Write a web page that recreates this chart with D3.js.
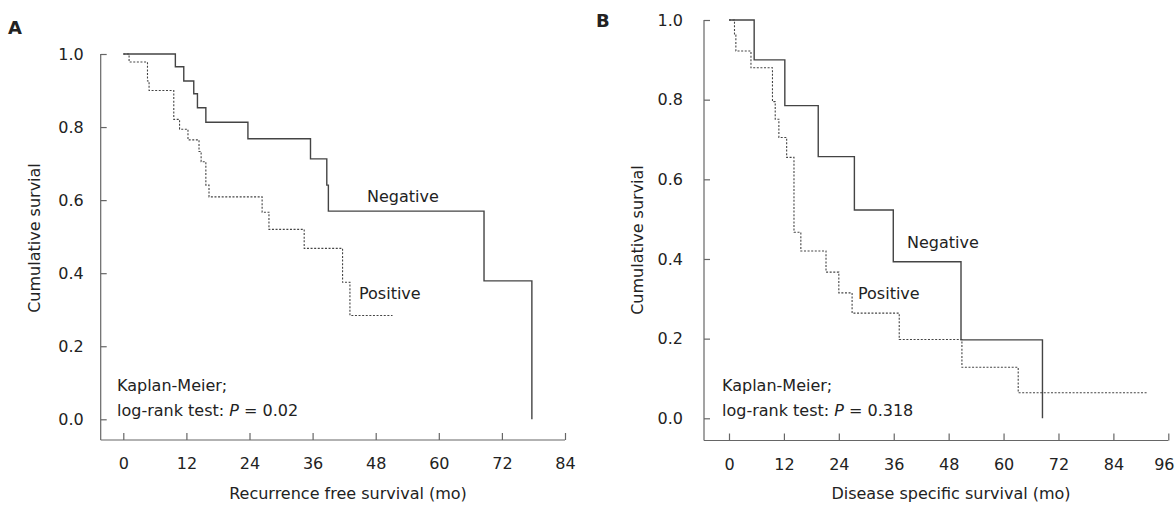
<!DOCTYPE html>
<html>
<head>
<meta charset="utf-8">
<script src="https://cdn.jsdelivr.net/npm/d3@7"></script>
<style>
  body { margin: 0; background: #fff; }
  svg text { font-family: "DejaVu Sans", Verdana, sans-serif; fill: #222; }
</style>
</head>
<body>
<svg id="chart" width="1175" height="505"></svg>
<script>
// Panel A - recurrence free survival (times in months, survival after each drop)
var negA_t = [0, 9.9, 11.5, 13.4, 14.1, 15.7, 23.7, 35.6, 38.7, 39.0, 68.6, 77.7];
var negA_s = [1.0, 0.965, 0.926, 0.891, 0.853, 0.813, 0.768, 0.713, 0.641, 0.570, 0.379, 0.0];
var posA_t = [0, 1.1, 4.6, 4.9, 9.6, 10.7, 12.3, 14.4, 14.8, 15.7, 16.3, 26.4, 27.7, 34.4, 41.7, 43.1, 51.2];
var posA_s = [1.0, 0.978, 0.926, 0.900, 0.821, 0.794, 0.765, 0.733, 0.705, 0.641, 0.609, 0.567, 0.520, 0.468, 0.375, 0.284, 0.284];

// Panel B - disease specific survival
var negB_t = [0, 5.5, 12.2, 19.5, 27.4, 35.9, 50.7, 68.5];
var negB_s = [1.0, 0.900, 0.785, 0.657, 0.523, 0.393, 0.197, 0.0];
var posB_t = [0, 1.2, 1.5, 4.8, 9.5, 10.1, 10.9, 12.6, 14.2, 15.7, 21.2, 24.0, 26.9, 37.2, 50.9, 63.2, 91.3];
var posB_s = [1.0, 0.962, 0.922, 0.880, 0.795, 0.751, 0.705, 0.655, 0.467, 0.420, 0.367, 0.315, 0.264, 0.198, 0.128, 0.064, 0.064];

var yTicks = [0, 0.2, 0.4, 0.6, 0.8, 1.0];
var xTicksA = [0, 12, 24, 36, 48, 60, 72, 84];
var xTicksB = [0, 12, 24, 36, 48, 60, 72, 84, 96];

var svg = d3.select("#chart");
var axisColor = "#666";
var lineColor = "#444";

function pts(t, s){
    return t.map(function(d, i){ return [d, s[i]]; });
}

function drawPanel(cfg){
    var x = d3.scaleLinear().domain([0, cfg.xmax]).range(cfg.xr);
    var y = d3.scaleLinear().domain([0, 1]).range(cfg.yr);
    var g = svg.append("g");

    // axis lines (drawn by hand so they meet in the corner)
    g.append("line").attr("x1", cfg.axX).attr("x2", cfg.axX)
        .attr("y1", y(1)).attr("y2", cfg.axY)
        .attr("stroke", axisColor).attr("stroke-width", 1.2);
    g.append("line").attr("x1", cfg.axX).attr("x2", x(cfg.xmax))
        .attr("y1", cfg.axY).attr("y2", cfg.axY)
        .attr("stroke", axisColor).attr("stroke-width", 1.2);

    var ya = g.append("g").attr("transform", "translate(" + cfg.axX + ",0)")
        .call(d3.axisLeft(y).tickValues(yTicks).tickFormat(d3.format(".1f"))
            .tickSizeInner(-6).tickSizeOuter(0).tickPadding(cfg.ypad));
    var xa = g.append("g").attr("transform", "translate(0," + cfg.axY + ")")
        .call(d3.axisBottom(x).tickValues(cfg.xticks)
            .tickSizeInner(-7).tickSizeOuter(0).tickPadding(18));
    [ya, xa].forEach(function(a){
        a.select(".domain").remove();
        a.selectAll("line").attr("stroke", axisColor).attr("stroke-width", 1.2);
        a.selectAll("text").style("font-size", "16px").attr("fill", "#222")
            .style("font-family", "DejaVu Sans, Verdana, sans-serif");
    });
    // keep the last tick label inside the page
    xa.selectAll(".tick text").filter(function(d){ return x(d) > 1160; })
        .attr("text-anchor", "end").attr("x", 1175 - x(cfg.xmax) - 1);

    var line = d3.line().x(function(d){ return x(d[0]); }).y(function(d){ return y(d[1]); })
        .curve(d3.curveStepAfter);

    g.append("path").attr("d", line(pts(cfg.posT, cfg.posS)))
        .attr("fill", "none").attr("stroke", lineColor).attr("stroke-width", 1.1)
        .attr("stroke-dasharray", "2,1.6");
    g.append("path").attr("d", line(pts(cfg.negT, cfg.negS)))
        .attr("fill", "none").attr("stroke", lineColor).attr("stroke-width", 1.4);

    // labels
    g.append("text").attr("x", cfg.negLab[0]).attr("y", cfg.negLab[1])
        .style("font-size", "16px").text("Negative");
    g.append("text").attr("x", cfg.posLab[0]).attr("y", cfg.posLab[1])
        .style("font-size", "16px").text("Positive");

    g.append("text").attr("x", cfg.noteX).attr("y", 391)
        .style("font-size", "16px").text("Kaplan-Meier;");
    var t = g.append("text").attr("x", cfg.noteX).attr("y", 416).style("font-size", "16px");
    t.append("tspan").text("log-rank test: ");
    t.append("tspan").style("font-style", "italic").text("P");
    t.append("tspan").text(" = " + cfg.pval);

    g.append("text").attr("x", cfg.xTitleX).attr("y", 499).attr("text-anchor", "middle")
        .style("font-size", "16px").text(cfg.xTitle);
    g.append("text").attr("transform", "translate(" + cfg.yTitleX + "," + cfg.yTitleY + ") rotate(-90)")
        .attr("text-anchor", "middle").style("font-size", "16px").text("Cumulative survial");

    g.append("text").attr("x", cfg.letter[0]).attr("y", cfg.letter[1])
        .style("font-size", "18px").style("font-weight", "bold").attr("fill", "#111")
        .text(cfg.name);
}

drawPanel({
    name: "A", letter: [8, 34],
    xmax: 84, xr: [123.3, 565], yr: [419.3, 54], axX: 100.7, axY: 440, ypad: 17,
    xticks: xTicksA,
    negT: negA_t, negS: negA_s, posT: posA_t, posS: posA_s,
    negLab: [367, 202], posLab: [359, 299],
    noteX: 117, pval: "0.02",
    xTitle: "Recurrence free survival (mo)", xTitleX: 348,
    yTitleX: 40, yTitleY: 238
});

drawPanel({
    name: "B", letter: [596, 27],
    xmax: 96, xr: [729, 1168.3], yr: [418.3, 20], axX: 704, axY: 440.5, ypad: 21,
    xticks: xTicksB,
    negT: negB_t, negS: negB_s, posT: posB_t, posS: posB_s,
    negLab: [907, 248], posLab: [858, 299],
    noteX: 722, pval: "0.318",
    xTitle: "Disease specific survival (mo)", xTitleX: 951,
    yTitleX: 643, yTitleY: 240
});
</script>
</body>
</html>
